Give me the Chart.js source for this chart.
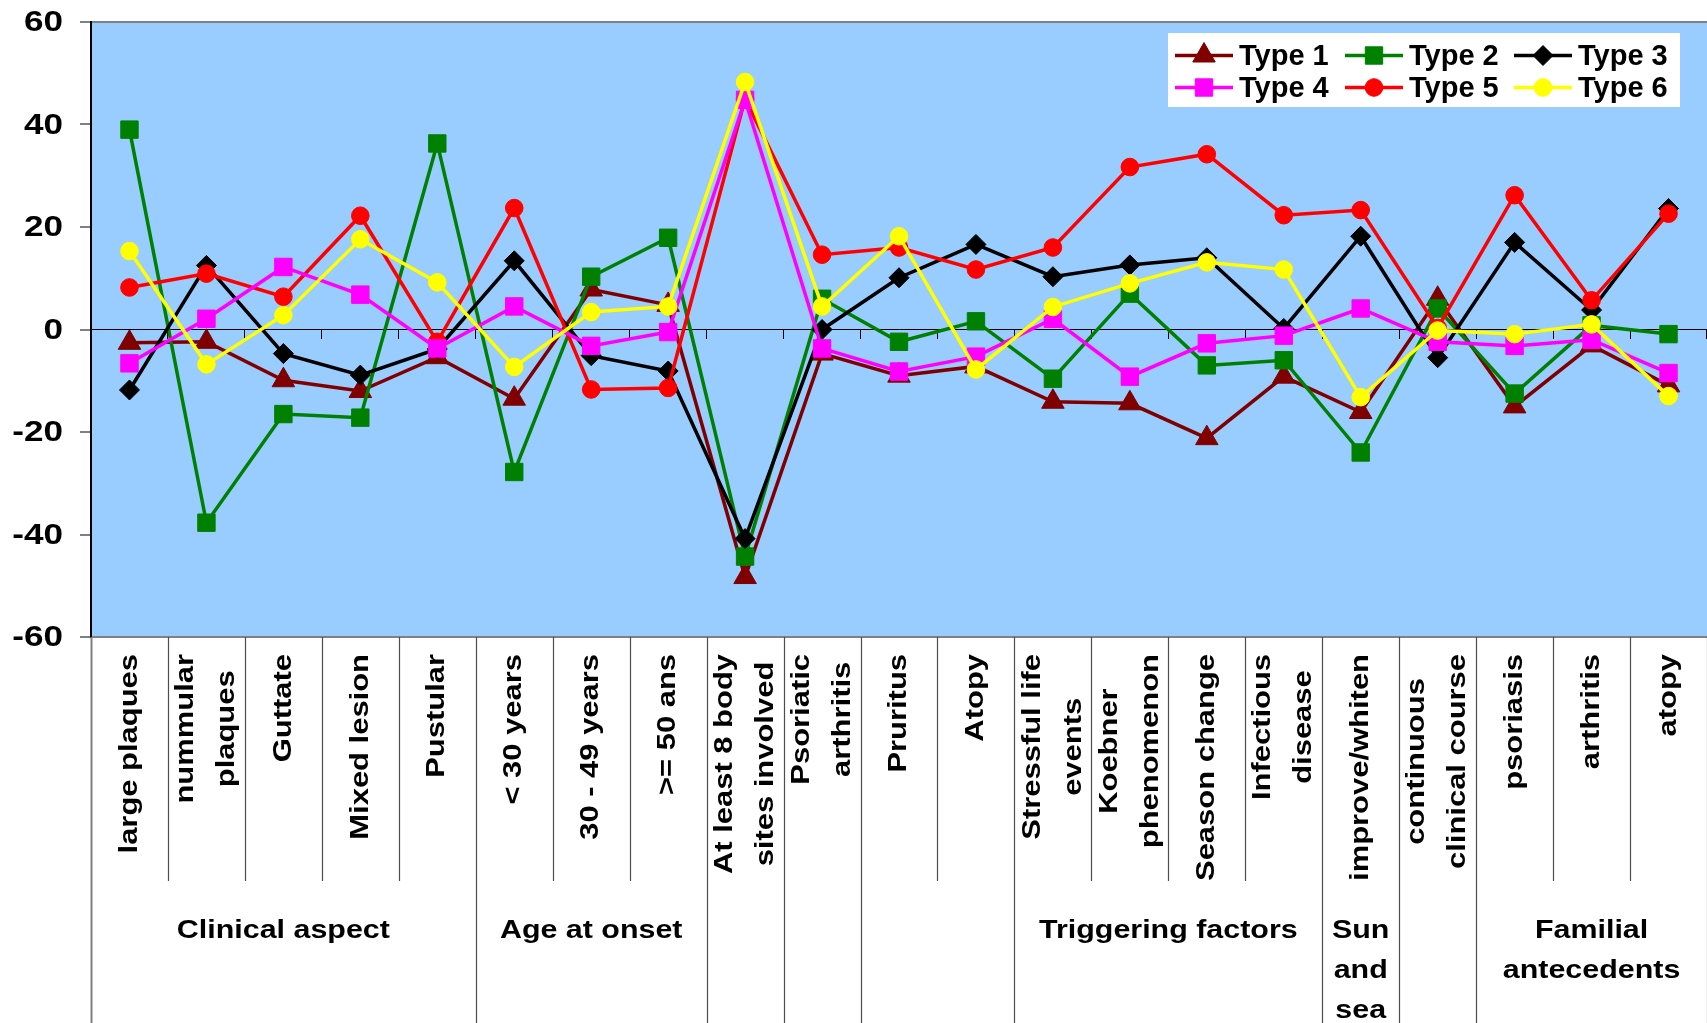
<!DOCTYPE html>
<html>
<head>
<meta charset="utf-8">
<title>Psoriasis types profile</title>
<script src="https://cdn.jsdelivr.net/npm/chart.js@4/dist/chart.umd.min.js"></script>
<style>
  html, body { margin: 0; padding: 0; background: #ffffff; }
  canvas { display: block; }
</style>
</head>
<body>
<canvas id="chart" width="1707" height="1023"></canvas>
<script>
// Category labels (each entry = lines of a rotated label)
const categories = [
  ['large plaques'],
  ['nummular', 'plaques'],
  ['Guttate'],
  ['Mixed lesion'],
  ['Pustular'],
  ['< 30 years'],
  ['30 - 49 years'],
  ['>= 50 ans'],
  ['At least 8 body', 'sites involved'],
  ['Psoriatic', 'arthritis'],
  ['Pruritus'],
  ['Atopy'],
  ['Stressful life', 'events'],
  ['Koebner', 'phenomenon'],
  ['Season change'],
  ['Infectious', 'disease'],
  ['improve/whiten'],
  ['continuous', 'clinical course'],
  ['psoriasis'],
  ['arthritis'],
  ['atopy']
];

// Second-level grouping of the categories (start index of each group)
const groupStarts = [0, 5, 8, 9, 10, 12, 16, 17, 18];
const groupLabels = [
  ['Clinical aspect'],
  ['Age at onset'],
  [],
  [],
  [],
  ['Triggering factors'],
  ['Sun', 'and', 'sea'],
  [],
  ['Familial', 'antecedents']
];

const seriesNames = ['Type 1', 'Type 2', 'Type 3', 'Type 4', 'Type 5', 'Type 6'];

const type1 = [-2.6, -2.4, -9.9, -12.0, -5.4, -13.5, 7.8, 4.8, -48.3, -4.7, -9.0, -7.2, -14.1, -14.4, -21.2, -9.2, -16.1, 6.0, -15.0, -3.1, -10.9];
const type2 = [39.0, -37.7, -16.5, -17.2, 36.3, -27.8, 10.3, 17.9, -44.3, 6.0, -2.4, 1.6, -9.6, 7.0, -7.0, -6.0, -24.0, 4.1, -12.5, 0.8, -0.9];
const type3 = [-11.8, 12.5, -4.7, -8.9, -3.8, 13.4, -5.1, -8.1, -40.8, 0.0, 10.1, 16.6, 10.3, 12.6, 14.0, 0.2, 18.2, -5.5, 17.0, 3.8, 23.6];
const type4 = [-6.6, 2.1, 12.2, 6.8, -3.7, 4.5, -3.2, -0.5, 44.8, -3.7, -8.2, -5.3, 2.1, -9.2, -2.7, -1.2, 4.1, -2.4, -3.2, -2.0, -8.5];
const type5 = [8.2, 10.9, 6.4, 22.2, -2.4, 23.7, -11.7, -11.4, 45.0, 14.6, 16.0, 11.7, 16.0, 31.7, 34.2, 22.3, 23.3, 0.3, 26.2, 5.7, 22.6];
const type6 = [15.3, -6.8, 2.8, 17.6, 9.2, -7.3, 3.4, 4.5, 48.3, 4.5, 18.2, -7.8, 4.4, 9.0, 13.1, 11.7, -13.2, -0.2, -0.9, 1.0, -13.0];

const yTicks = [-60, -40, -20, 0, 20, 40, 60];

const seriesValues = [type1, type2, type3, type4, type5, type6];
const seriesColors = ['#800000', '#008000', '#000000', '#FF00FF', '#FF0000', '#FFFF00'];
const seriesMarkers = ['triangle', 'rect', 'rectRot', 'rect', 'circle', 'circle'];
// stacking of the series (lower number = drawn on top)
const seriesOrder = [6, 5, 4, 2, 3, 1];
const markerRadius = { triangle: 13, rect: 12.3, rectRot: 10, circle: 8.8 };

const FONT = '"Liberation Sans", Arial, Helvetica, sans-serif';

const datasets = seriesNames.map((name, i) => ({
  label: name,
  data: seriesValues[i],
  borderColor: seriesColors[i],
  backgroundColor: seriesColors[i],
  pointBackgroundColor: seriesColors[i],
  pointBorderColor: seriesColors[i],
  pointBorderWidth: 1,
  pointStyle: seriesMarkers[i],
  pointRadius: markerRadius[seriesMarkers[i]],
  borderWidth: 3.5,
  tension: 0,
  fill: false,
  clip: false,
  order: seriesOrder[i]
}));

function markerOptions(i) {
  return { pointStyle: seriesMarkers[i], radius: markerRadius[seriesMarkers[i]], rotation: 0, borderWidth: 1 };
}

// Draw text horizontally widened around an anchor point
function wideText(ctx, text, x, y, stretch) {
  ctx.save();
  ctx.translate(x, y);
  ctx.scale(stretch, 1);
  ctx.fillText(text, 0, 0);
  ctx.restore();
}

// Plot background (light blue inside the plot area, white elsewhere)
const backgroundPlugin = {
  id: 'plotBackground',
  beforeDraw(chart) {
    const { ctx, chartArea: a } = chart;
    ctx.save();
    ctx.fillStyle = '#ffffff';
    ctx.fillRect(0, 0, chart.width, chart.height);
    ctx.fillStyle = '#99CCFF';
    ctx.fillRect(a.left, a.top, a.right - a.left, a.bottom - a.top);
    ctx.restore();
  }
};

// Value labels of the y axis, placed from the scale's own ticks
const yLabelsPlugin = {
  id: 'yLabels',
  afterDraw(chart) {
    const { ctx } = chart;
    const y = chart.scales.y;
    ctx.save();
    ctx.fillStyle = '#000000';
    ctx.font = 'bold 30px ' + FONT;
    ctx.textAlign = 'right';
    ctx.textBaseline = 'middle';
    y.ticks.forEach(t => {
      wideText(ctx, String(t.value), 63, y.getPixelForValue(t.value) + 1, 1.17);
    });
    ctx.restore();
  }
};

// Rotated category labels, separators and group labels under the plot
const categoryTablePlugin = {
  id: 'categoryTable',
  afterDraw(chart) {
    const { ctx, chartArea: a } = chart;
    const x = chart.scales.x;
    const n = categories.length;
    const half = (x.getPixelForValue(1) - x.getPixelForValue(0)) / 2;
    const boundary = k => (k < n ? x.getPixelForValue(k) - half : x.getPixelForValue(n - 1) + half);
    const shortBottom = 881;
    const fullBottom = chart.height;

    ctx.save();
    // separators
    for (let k = 0; k <= n; k++) {
      const bx = Math.round(boundary(k)) + 0.5;
      const isGroup = groupStarts.includes(k) || k === n;
      ctx.beginPath();
      if (k === 0) {
        ctx.strokeStyle = '#808080';
        ctx.lineWidth = 2;
      } else {
        ctx.strokeStyle = '#4d4d4d';
        ctx.lineWidth = 1.2;
      }
      ctx.moveTo(bx, a.bottom);
      ctx.lineTo(bx, isGroup ? fullBottom : shortBottom);
      ctx.stroke();
    }

    // rotated category labels
    const labelTop = 654;
    const stretch = 1.19;
    ctx.fillStyle = '#000000';
    ctx.font = 'bold 26px ' + FONT;
    categories.forEach((lines, i) => {
      const cx = x.getPixelForValue(i);
      const maxW = Math.max(...lines.map(l => ctx.measureText(l).width));
      ctx.save();
      ctx.translate(cx, labelTop);
      ctx.rotate(-Math.PI / 2);
      ctx.scale(stretch, 1);
      ctx.textAlign = 'center';
      ctx.textBaseline = 'middle';
      lines.forEach((line, j) => {
        ctx.fillText(line, -maxW / 2, (j - (lines.length - 1) / 2) * 41);
      });
      ctx.restore();
    });

    // group labels
    ctx.font = 'bold 26px ' + FONT;
    ctx.textAlign = 'center';
    ctx.textBaseline = 'alphabetic';
    groupStarts.forEach((start, g) => {
      const end = g + 1 < groupStarts.length ? groupStarts[g + 1] : n;
      const cx = (boundary(start) + boundary(end)) / 2;
      groupLabels[g].forEach((line, j) => {
        wideText(ctx, line, cx, 938 + j * 40, 1.17);
      });
    });
    ctx.restore();
  }
};

// Legend box with line + marker samples
const legendPlugin = {
  id: 'lineMarkerLegend',
  afterDraw(chart) {
    const ctx = chart.ctx;
    const box = { left: 1168, top: 33, right: 1680, bottom: 107 };
    const cols = [1175, 1345, 1514];
    const rows = [55.5, 87.5];
    const lineLen = 58;
    ctx.save();
    ctx.fillStyle = '#ffffff';
    ctx.fillRect(box.left, box.top, box.right - box.left, box.bottom - box.top);
    ctx.font = 'bold 29px ' + FONT;
    ctx.textAlign = 'left';
    ctx.textBaseline = 'middle';
    chart.data.datasets.forEach((ds, i) => {
      const lx = cols[i % 3];
      const ly = rows[Math.floor(i / 3)];
      ctx.strokeStyle = ds.borderColor;
      ctx.lineWidth = 3.5;
      ctx.beginPath();
      ctx.moveTo(lx, ly);
      ctx.lineTo(lx + lineLen, ly);
      ctx.stroke();
      ctx.fillStyle = ds.borderColor;
      ctx.strokeStyle = ds.borderColor;
      ctx.lineWidth = 1;
      Chart.helpers.drawPoint(ctx, markerOptions(i), lx + lineLen / 2, ly);
      ctx.fillStyle = '#000000';
      ctx.fillText(ds.label, lx + lineLen + 6, ly + 1);
    });
    ctx.restore();
  }
};

new Chart(document.getElementById('chart'), {
  type: 'line',
  data: {
    labels: categories.map(l => l.join(' ')),
    datasets
  },
  options: {
    responsive: false,
    devicePixelRatio: 1,
    animation: false,
    events: [],
    layout: { autoPadding: false, padding: { top: 22, right: 0, bottom: 386, left: 0 } },
    plugins: {
      legend: { display: false },
      title: { display: false },
      tooltip: { enabled: false }
    },
    scales: {
      x: {
        type: 'category',
        offset: true,
        position: { y: 0 },
        ticks: { display: false },
        grid: {
          offset: true,
          drawOnChartArea: false,
          drawTicks: true,
          tickLength: 9,
          color: '#000000',
          lineWidth: 1
        },
        border: { display: true, color: '#000000', width: 1 }
      },
      y: {
        type: 'linear',
        position: 'left',
        min: yTicks[0],
        max: yTicks[yTicks.length - 1],
        afterBuildTicks(scale) {
          scale.ticks = yTicks.map(v => ({ value: v }));
        },
        afterFit(scale) { scale.width = 91; },
        ticks: { display: false },
        grid: {
          color: ctx => (ctx.tick && Math.abs(ctx.tick.value) === 60 ? '#808080' : 'rgba(0,0,0,0)'),
          lineWidth: 2,
          tickColor: '#808080',
          tickWidth: 2,
          tickLength: 11,
          drawTicks: true
        },
        border: { display: true, color: '#000000', width: 2 }
      }
    }
  },
  plugins: [backgroundPlugin, yLabelsPlugin, categoryTablePlugin, legendPlugin]
});
</script>
</body>
</html>
